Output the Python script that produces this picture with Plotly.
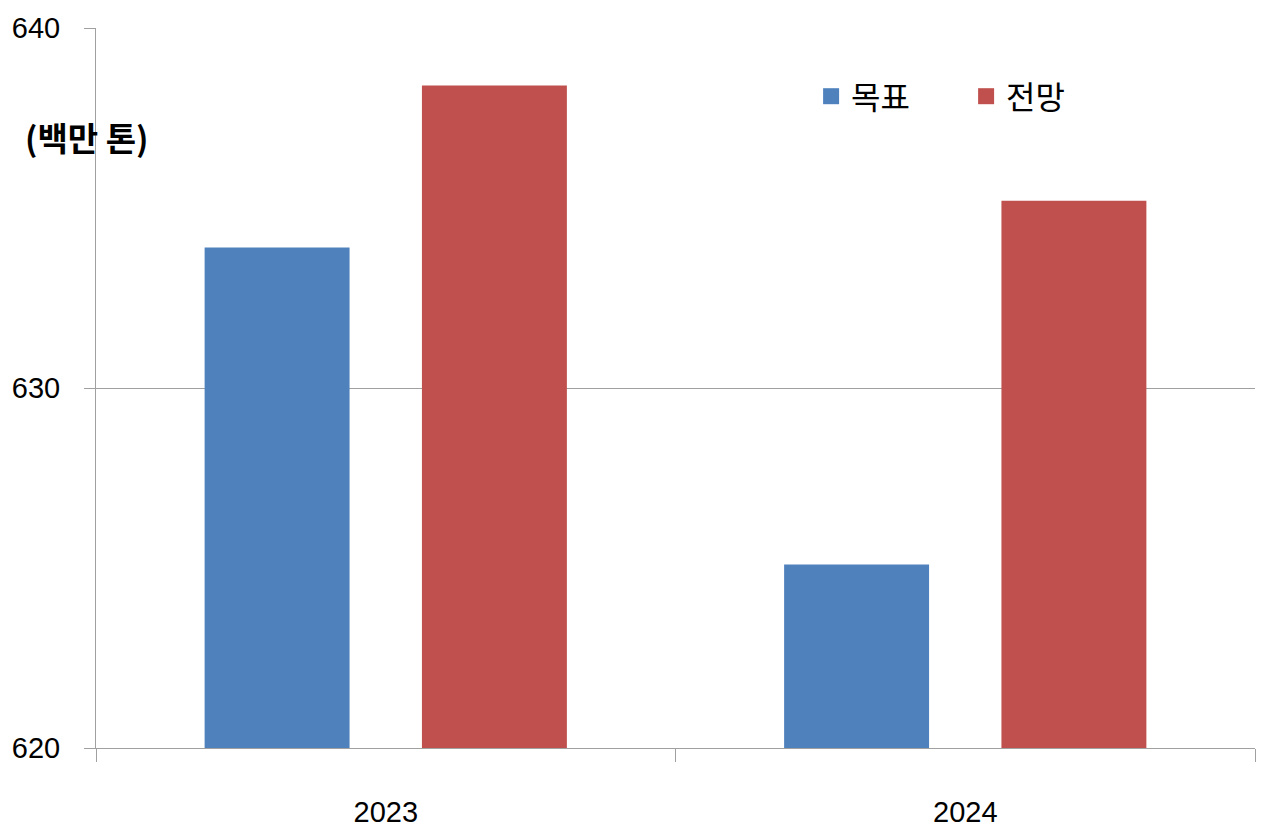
import plotly.graph_objects as go

years = ["2023", "2024"]
target = [633.9, 625.1]      # 목표
forecast = [638.4, 635.2]    # 전망
series_names = ["목표", "전망"]
colors = ["#4F81BD", "#C0504D"]
unit_label = "(백만 톤)"

FONT = "Liberation Sans, Arial, Noto Sans CJK KR, sans-serif"
KFONT = "Noto Sans CJK KR, Malgun Gothic, sans-serif"

fig = go.Figure()
for name, vals, col in zip(series_names, [target, forecast], colors):
    fig.add_trace(go.Bar(x=years, y=vals, name=name, marker=dict(color=col, line=dict(width=0)),
                         showlegend=False))
    # legend proxy with larger square symbol
    fig.add_trace(go.Scatter(x=[None], y=[None], mode="markers", name=name,
                             marker=dict(symbol="square", size=18, color=col)))

fig.update_layout(
    width=1272, height=828,
    margin=dict(l=88, r=25, t=20, b=88, autoexpand=False),
    plot_bgcolor="white", paper_bgcolor="white",
    barmode="group", bargap=0.25, bargroupgap=0.333,
    font=dict(family=FONT, size=30, color="black"),
    legend=dict(orientation="h", x=0.617, y=0.905, xanchor="left", yanchor="middle",
                font=dict(family=KFONT, size=32, color="black"),
                bgcolor="rgba(0,0,0,0)", itemsizing="trace",
                entrywidth=110, entrywidthmode="pixels"),
)
fig.update_xaxes(
    type="category", showline=True, linecolor="#A0A0A0", linewidth=1, automargin=False,
    ticks="outside", tickson="boundaries", ticklen=13, tickcolor="#A0A0A0",
    tickfont=dict(family=FONT, size=29), ticklabelstandoff=38,
    showgrid=False, zeroline=False,
)
fig.update_yaxes(
    range=[620, 640], tickvals=[620, 630, 640], showline=True, linecolor="#A0A0A0", linewidth=1,
    automargin=False,
    ticks="outside", ticklen=11, tickcolor="#A0A0A0",
    tickfont=dict(family=FONT, size=29), ticklabelstandoff=18,
    showgrid=True, gridcolor="#A0A0A0", gridwidth=1, zeroline=False,
)
fig.add_annotation(text="<b>" + unit_label + "</b>", xref="paper", yref="paper",
                   x=-0.0078, y=0.849, xanchor="center", yanchor="middle", showarrow=False,
                   font=dict(family=KFONT, size=33, color="black"))

fig.write_html("out.html")
